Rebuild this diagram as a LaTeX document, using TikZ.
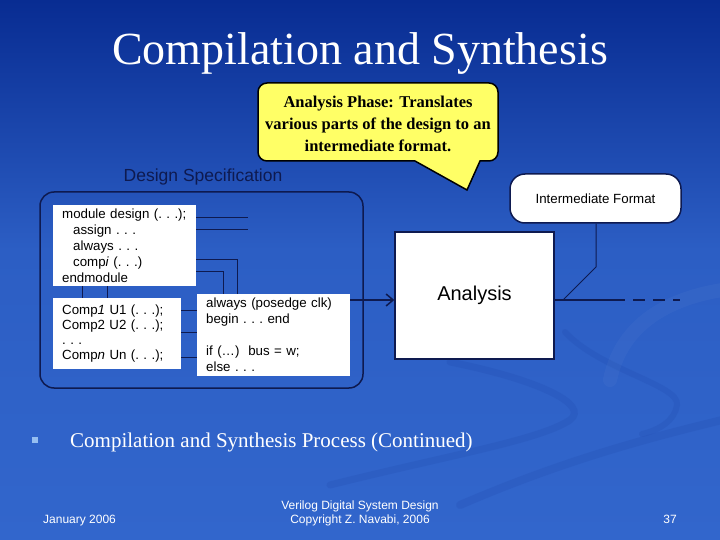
\documentclass[tikz,border=0pt]{standalone}
\usepackage{fontspec}
\setmainfont{Liberation Serif}
\setsansfont{Liberation Sans}
\usetikzlibrary{arrows.meta}
\definecolor{bgtop}{RGB}{8,44,146}
\definecolor{bgmid}{RGB}{44,94,196}
\definecolor{bgbot}{RGB}{50,102,204}
\definecolor{bandcol}{RGB}{30,70,170}
\definecolor{navy}{RGB}{14,26,80}
\definecolor{calloutyellow}{RGB}{255,255,102}
\definecolor{bulletblue}{RGB}{150,190,240}
\tikzset{
  codebox/.style={fill=white, draw=none, anchor=north west, align=left, inner xsep=9pt, inner ysep=0pt,
    font=\sffamily\frenchspacing\fontsize{13.3}{16}\selectfont},
  wire/.style={draw=navy, line width=1pt},
  framebox/.style={draw=navy, line width=1.5pt},
  band/.style={draw=bandcol, opacity=0.2, line cap=round},
  plain/.style={inner sep=0pt, text=white},
}
\begin{document}
\begin{tikzpicture}[x=1pt,y=-1pt]
\useasboundingbox (0,0) rectangle (720,540);
% background
\fill[top color=bgtop, bottom color=bgmid] (0,0) rectangle (720,250);
\fill[top color=bgmid, bottom color=bgbot] (0,250) rectangle (720,540);
% faint swooshes
\draw[band, line width=7pt] (450,362) .. controls (540,380) and (590,405) .. (570,420) .. controls (540,440) and (450,455) .. (330,485);
\draw[band, line width=6pt] (565,332) .. controls (600,370) and (680,385) .. (677,405) .. controls (675,420) and (660,430) .. (642,434);
\draw[band, line width=8pt] (722,420) .. controls (640,440) and (560,462) .. (460,505);
\draw[white, opacity=0.03, line width=14pt, line cap=round] (610,380) .. controls (620,330) and (660,300) .. (722,290);

% title
\node[anchor=base, plain, font=\fontsize{46}{50}\selectfont] (title) at (360,65) {Compilation and Synthesis};

% callout
\draw[fill=calloutyellow, draw=black, line width=1.5pt, rounded corners=9pt]
  (400,161) -- (258,161) -- (258,83) -- (498,83) -- (498,161) [sharp corners] -- (480,161) -- (467,190) -- (415,161) -- cycle;
\node[align=center, font=\bfseries\fontsize{16.5}{22}\selectfont] (callout) at (378,124)
  {Analysis Phase: Translates\\various parts of the design to an\\intermediate format.};

% design specification
\node[font=\sffamily\fontsize{17.5}{20}\selectfont, text=navy] (speclabel) at (203,177) {Design Specification};
\node[framebox, rounded corners=14pt, minimum width=323pt, minimum height=196pt] (spec) at (201.5,290) {};

\node[codebox, minimum width=143pt, minimum height=81pt, text width=125pt] (mod) at (53,205)
  {module design (. . .);\\\hspace*{11pt}assign . . .\\\hspace*{11pt}always . . .\\\hspace*{11pt}comp\textit{i} (. . .)\\endmodule};
\node[codebox, minimum width=128pt, minimum height=71pt, text width=110pt, font=\sffamily\frenchspacing\fontsize{13.3}{15}\selectfont] (comp) at (53,298)
  {Comp\textit{1} U1 (. . .);\\Comp2 U2 (. . .);\\. . .\\Comp\textit{n} Un (. . .);};
\node[codebox, minimum width=153pt, minimum height=82pt, text width=135pt] (alw) at (197,294)
  {always (posedge clk)\\begin . . . end\\[16pt]if (…)\ \ bus = w;\\else . . .};

% wires from module
\coordinate (m1) at (248,218);
\coordinate (m2) at (248,230);
\draw[wire] (mod.east |- m1) -- (m1);
\draw[wire] (mod.east |- m2) -- (m2);
\draw[wire] (mod.east |- 0,259) -| (alw.north -| 237,0);
\draw[wire] (mod.east |- 0,271) -| (alw.north -| 223,0);
\draw[wire] (mod.south -| 82,0) -- (comp.north -| 82,0);
\draw[wire] (mod.south -| 107,0) -- (comp.north -| 107,0);
\draw[wire] (comp.east |- 0,310) -- (alw.west |- 0,310);
\draw[wire] (comp.east |- 0,332) -- (alw.west |- 0,332);
\draw[wire] (comp.east |- 0,357) -- (alw.west |- 0,357);

% analysis
\node[framebox, fill=white, minimum width=159pt, minimum height=127pt, font=\sffamily\fontsize{20}{24}\selectfont] (ana) at (474.5,295.5) {Analysis};
\draw[wire, line width=1.5pt, -{Straight Barb[length=7pt,width=12pt,line width=1.5pt]}] (alw.east |- 0,300) -- (ana.west |- 0,300);

% intermediate format
\node[framebox, fill=white, rounded corners=15pt, minimum width=171pt, minimum height=49pt, font=\sffamily\fontsize{13.3}{16}\selectfont] (ifm) at (595.5,198.5) {Intermediate Format};
\coordinate (outsolid) at (625,300);
\coordinate (outend) at (680,300);
\draw[wire, line width=1.5pt] (ana.east |- 0,300) -- (outsolid);
\draw[wire, line width=1.5pt, dash pattern=on 12pt off 8pt] (outsolid) ++(8,0) -- (outend);
\coordinate (bend) at (596,267);
\coordinate (join) at (563,300);
\draw[wire] (ifm.south -| bend) -- (bend) -- (join);

% bullet
\node[fill=bulletblue, minimum size=6pt, inner sep=0pt] (bullet) at (35,440) {};
\node[anchor=base west, plain, font=\fontsize{21}{24}\selectfont] (bullettext) at (70,447) {Compilation and Synthesis Process (Continued)};

% footer
\node[anchor=base west, plain, font=\sffamily\fontsize{12}{14}\selectfont] (date) at (43,523) {January 2006};
\node[anchor=base, plain, align=center, font=\sffamily\fontsize{12}{14}\selectfont] (copy) at (360,523) {Verilog Digital System Design\\Copyright Z. Navabi, 2006};
\node[anchor=base east, plain, font=\sffamily\fontsize{12}{14}\selectfont] (page) at (677,523) {37};
\end{tikzpicture}
\end{document}
